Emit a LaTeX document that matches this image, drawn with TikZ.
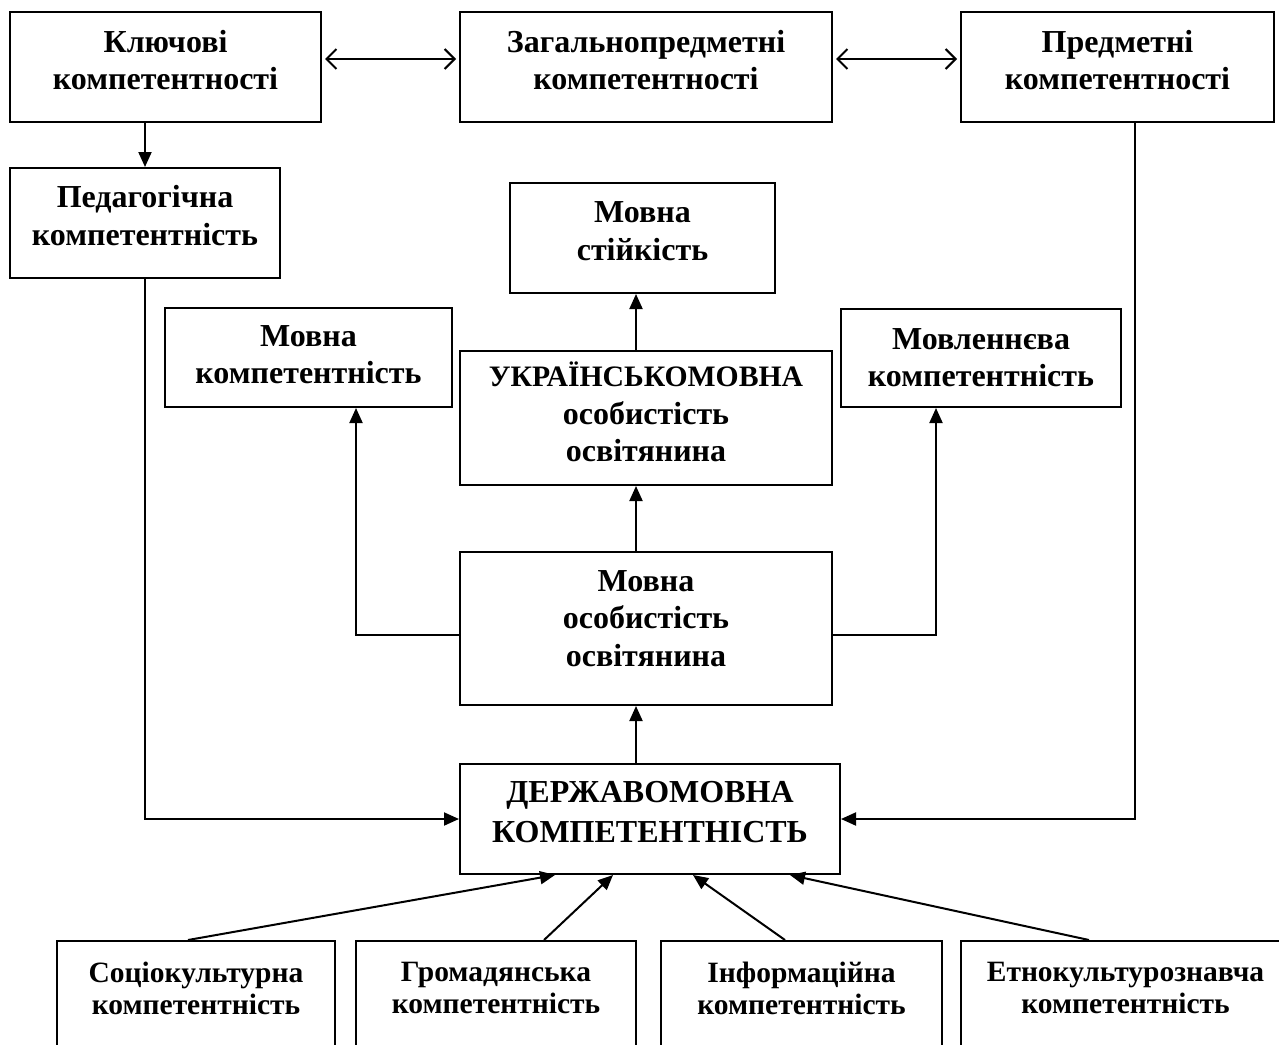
\documentclass[tikz,border=0pt]{standalone}
\usepackage{fontspec}
\setmainfont{Liberation Serif}
\usetikzlibrary{arrows.meta}
\begin{document}
\begin{tikzpicture}[x=1pt,y=-1pt,
  box/.style={draw, line width=2pt, inner sep=0pt, rectangle},
  txt/.style={font=\bfseries\fontsize{32}{37.5}\selectfont, align=center, inner sep=0pt},
  captxt/.style={font=\bfseries\fontsize{32}{40}\selectfont, align=center, inner sep=0pt},
  btxt/.style={font=\bfseries\fontsize{29.5}{32}\selectfont, align=center, inner sep=0pt},
  arr/.style={line width=2pt, -{Triangle[length=15pt,width=13pt]}},
  dbl/.style={line width=2pt, shorten <=3pt, shorten >=3pt,
    {Straight Barb[length=10pt,width=20pt]}-{Straight Barb[length=10pt,width=20pt]}}]
\useasboundingbox (0,0) rectangle (1279,1044);
% boxes
\node[box, minimum width=311pt, minimum height=110pt] (kl) at (165.5,67) {};
\node[box, minimum width=372pt, minimum height=110pt] (zag) at (646,67) {};
\node[box, minimum width=313pt, minimum height=110pt] (pr) at (1117.5,67) {};
\node[box, minimum width=270pt, minimum height=110pt] (ped) at (145,223) {};
\node[box, minimum width=265pt, minimum height=110pt] (ms) at (642.5,238) {};
\node[box, minimum width=287pt, minimum height=99pt] (mk) at (308.5,357.5) {};
\node[box, minimum width=372pt, minimum height=134pt] (ukr) at (646,418) {};
\node[box, minimum width=280pt, minimum height=98pt] (mv) at (981,358) {};
\node[box, minimum width=372pt, minimum height=153pt] (mo) at (646,628.5) {};
\node[box, minimum width=380pt, minimum height=110pt] (derzh) at (650,819) {};
\node[box, minimum width=278pt, minimum height=119pt] (b1) at (196,1000.5) {};
\node[box, minimum width=280pt, minimum height=119pt] (b2) at (496,1000.5) {};
\node[box, minimum width=281pt, minimum height=119pt] (b3) at (801.5,1000.5) {};
\node[box, minimum width=329pt, minimum height=119pt] (b4) at (1125.5,1000.5) {};
% texts
\node[txt] (klt) at (165.5,60) {Ключові\\компетентності};
\node[txt] (zagt) at (646,60) {Загальнопредметні\\компетентності};
\node[txt] (prt) at (1117.5,60) {Предметні\\компетентності};
\node[txt] (pedt) at (145,215.5) {Педагогічна\\компетентність};
\node[txt] (mst) at (642.5,231) {Мовна\\стійкість};
\node[txt] (mkt) at (308.5,354.5) {Мовна\\компетентність};
\node[txt] (ukrt) at (646,412) {{\fontsize{29.7}{37.5}\selectfont УКРАЇНСЬКОМОВНА}\\особистість\\освітянина};
\node[txt] (mvt) at (981,357.5) {Мовленнєва\\компетентність};
\node[txt] (mot) at (646,618.5) {Мовна\\особистість\\освітянина};
\node[captxt] (derzht) at (650,812.5) {ДЕРЖАВОМОВНА\\КОМПЕТЕНТНІСТЬ};
\node[btxt] (b1t) at (196,988) {Соціокультурна\\компетентність};
\node[btxt] (b2t) at (496,988) {Громадянська\\компетентність};
\node[btxt] (b3t) at (801.5,988) {Інформаційна\\компетентність};
\node[btxt] (b4t) at (1125.5,988) {Етнокультурознавча\\компетентність};
% helper coordinates
\coordinate (hy) at (0,635);
\coordinate (lx) at (356,0);
\coordinate (rx) at (936,0);
\coordinate (cx) at (636,0);
\coordinate (px) at (1135,0);
% connectors
\draw[dbl] ([yshift=8pt]kl.east) -- ([yshift=8pt]zag.west);
\draw[dbl] ([yshift=8pt]zag.east) -- ([yshift=8pt]pr.west);
\draw[arr] (kl.south -| ped.north) -- (ped.north);
\draw[arr] (ukr.north -| cx) -- (ms.south -| cx);
\draw[arr] (mo.north -| cx) -- (ukr.south -| cx);
\draw[arr] (derzh.north -| cx) -- (mo.south -| cx);
\draw[arr] (mo.west |- hy) -| (mk.south -| lx);
\draw[arr] (mo.east |- hy) -| (mv.south -| rx);
\draw[arr] (ped.south) |- (derzh.west);
\draw[arr] (pr.south -| px) |- (derzh.east);
\draw[arr] ([xshift=-8pt]b1.north) -- ([xshift=-95pt]derzh.south);
\draw[arr] ([xshift=48pt]b2.north) -- ([xshift=-37pt]derzh.south);
\draw[arr] ([xshift=-16.5pt]b3.north) -- ([xshift=43pt]derzh.south);
\draw[arr] ([xshift=-36.5pt]b4.north) -- ([xshift=140pt]derzh.south);
\end{tikzpicture}
\end{document}
